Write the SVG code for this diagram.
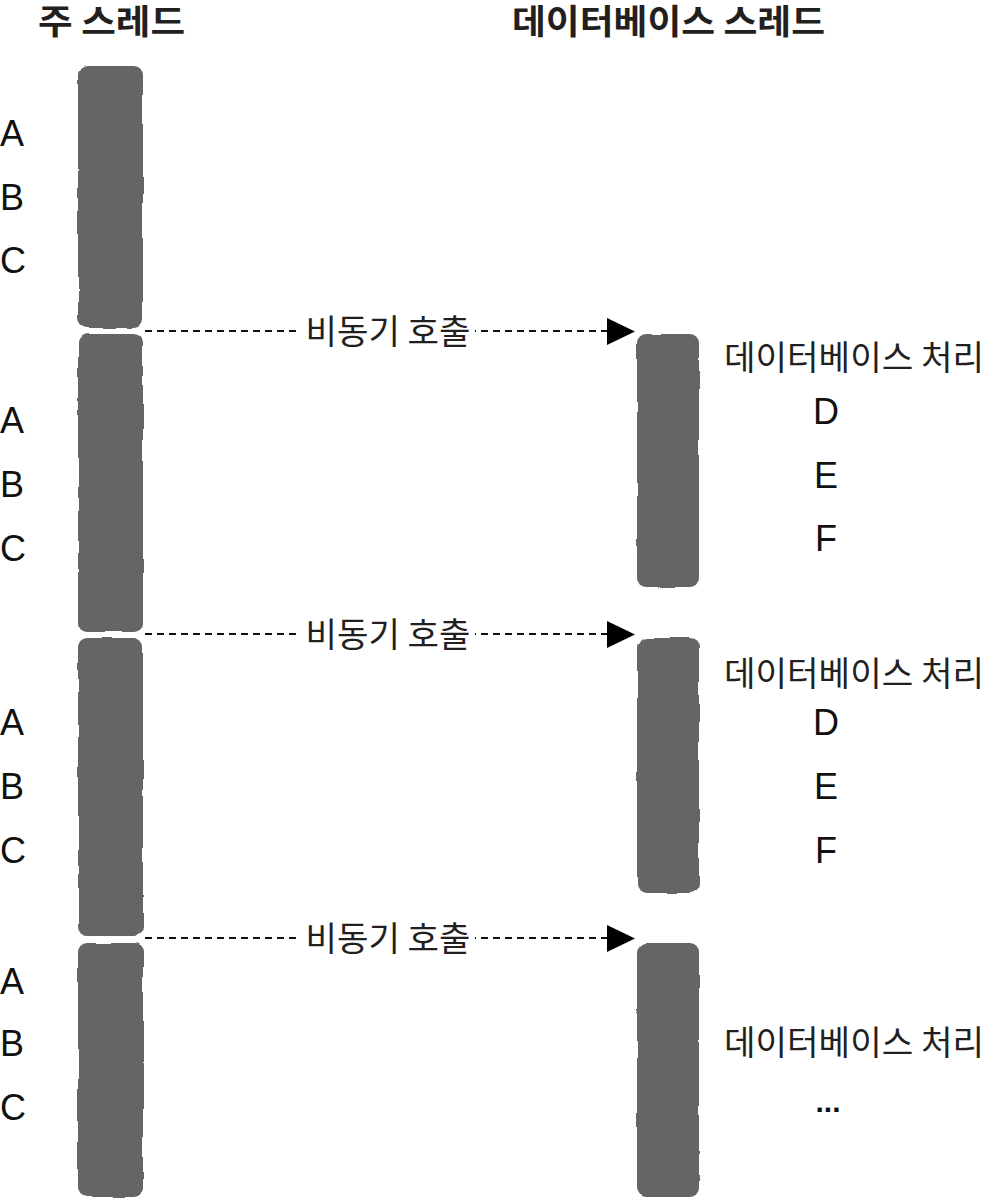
<svg xmlns="http://www.w3.org/2000/svg" width="982" height="1200" viewBox="0 0 982 1200">
<style>
.bar{fill:#656565;}
.title{font-family:"Noto Sans CJK KR","Noto Sans",sans-serif;font-size:34px;font-weight:bold;fill:#231f20;}
.kr{font-family:"Noto Sans CJK KR","Noto Sans",sans-serif;font-size:34px;fill:#231f20;}
.lbl{font-family:"Noto Sans CJK KR","Noto Sans",sans-serif;font-size:34px;fill:#231f20;text-anchor:middle;}
.let{font-family:"Liberation Sans",Arial,sans-serif;font-size:36px;fill:#111;}
.mid{text-anchor:middle;}
.dash{stroke:#111;stroke-width:2;stroke-dasharray:7 5;fill:none;}
.bg{fill:#fff;}
</style>
<defs>
<filter id="rough" x="-10%" y="-2%" width="120%" height="104%">
<feTurbulence type="fractalNoise" baseFrequency="0.03" numOctaves="2" seed="3" result="n"/>
<feDisplacementMap in="SourceGraphic" in2="n" scale="4" xChannelSelector="R" yChannelSelector="G"/>
</filter>
</defs>

<g id="titles">
<text class="title" x="38" y="34" textLength="147" lengthAdjust="spacingAndGlyphs">주 스레드</text>
<text class="title" x="512" y="34" textLength="313" lengthAdjust="spacingAndGlyphs">데이터베이스 스레드</text>
</g>

<g id="main-thread" filter="url(#rough)">
<rect id="main-bar-1" class="bar" x="78" y="66" width="65" height="262" rx="9"/>
<rect id="main-bar-2" class="bar" x="78" y="334" width="65" height="298" rx="9"/>
<rect id="main-bar-3" class="bar" x="78" y="638" width="65" height="298" rx="9"/>
<rect id="main-bar-4" class="bar" x="78" y="943" width="65" height="254" rx="9"/>
</g>

<g id="db-thread" filter="url(#rough)">
<rect id="db-bar-1" class="bar" x="637" y="334" width="62" height="254" rx="9"/>
<rect id="db-bar-2" class="bar" x="637" y="638" width="62" height="255" rx="9"/>
<rect id="db-bar-3" class="bar" x="637" y="943" width="62" height="254" rx="9"/>
</g>

<g id="connectors">
<line class="dash" x1="145" y1="331" x2="607" y2="331"/>
<path d="M607,318 L635,331.5 L607,345 Z" fill="#000"/>
<line class="dash" x1="145" y1="634" x2="607" y2="634"/>
<path d="M607,621 L635,634.5 L607,648 Z" fill="#000"/>
<line class="dash" x1="145" y1="938" x2="607" y2="938"/>
<path d="M607,925 L635,938.5 L607,952 Z" fill="#000"/>
</g>

<g id="call-labels">
<rect class="bg" x="301" y="312" width="174" height="38"/>
<text class="lbl" x="388" y="344" textLength="165" lengthAdjust="spacingAndGlyphs">비동기 호출</text>
<rect class="bg" x="301" y="615" width="174" height="38"/>
<text class="lbl" x="388" y="647" textLength="165" lengthAdjust="spacingAndGlyphs">비동기 호출</text>
<rect class="bg" x="301" y="919" width="174" height="38"/>
<text class="lbl" x="388" y="951" textLength="165" lengthAdjust="spacingAndGlyphs">비동기 호출</text>
</g>

<g id="main-steps">
<text class="let" x="0" y="146">A</text>
<text class="let" x="0" y="210">B</text>
<text class="let" x="0" y="273">C</text>
<text class="let" x="0" y="433">A</text>
<text class="let" x="0" y="497">B</text>
<text class="let" x="0" y="561">C</text>
<text class="let" x="0" y="735">A</text>
<text class="let" x="0" y="799">B</text>
<text class="let" x="0" y="863">C</text>
<text class="let" x="0" y="994">A</text>
<text class="let" x="0" y="1056">B</text>
<text class="let" x="0" y="1120">C</text>
</g>

<g id="db-steps">
<text class="kr" x="724" y="370" textLength="260" lengthAdjust="spacingAndGlyphs">데이터베이스 처리</text>
<text class="let mid" x="826" y="424">D</text>
<text class="let mid" x="826" y="488">E</text>
<text class="let mid" x="826" y="551">F</text>
<text class="kr" x="724" y="686" textLength="260" lengthAdjust="spacingAndGlyphs">데이터베이스 처리</text>
<text class="let mid" x="826" y="735">D</text>
<text class="let mid" x="826" y="799">E</text>
<text class="let mid" x="826" y="863">F</text>
<text class="kr" x="724" y="1055" textLength="260" lengthAdjust="spacingAndGlyphs">데이터베이스 처리</text>
<text class="let mid" x="828" y="1112" style="font-weight:bold;font-size:30px">...</text>
</g>
</svg>
